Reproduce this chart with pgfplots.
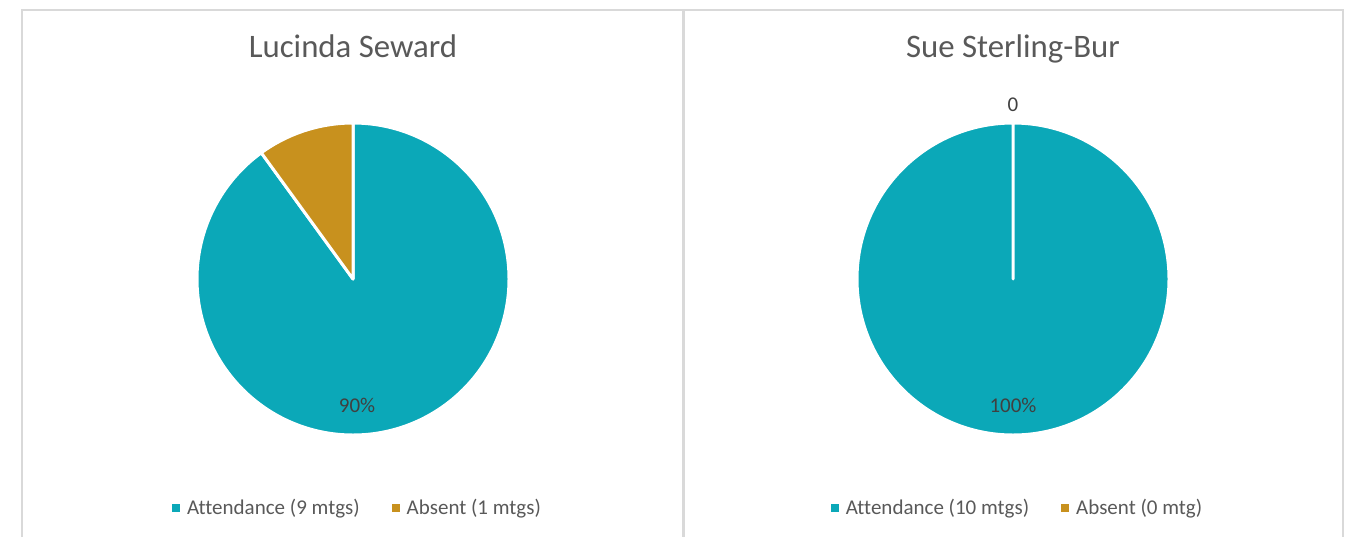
\documentclass[border=0pt]{standalone}
\usepackage{pgfplots}
\usepackage{pgfplotstable}
\usepackage{fontspec}
\setmainfont{Carlito}[Ligatures=NoCommon]
\pgfplotsset{compat=1.18}
\definecolor{teal0}{RGB}{11,168,184}
\definecolor{gold0}{RGB}{200,145,30}
\definecolor{titlegray}{RGB}{89,89,89}
\definecolor{labgray}{RGB}{64,64,64}
\definecolor{framegray}{RGB}{217,217,217}
\pgfplotstableread{
person attend absent
Lucinda 9 1
Sue 10 0
}\meetings
\pgfplotstablegetelem{0}{attend}\of\meetings \let\LatA\pgfplotsretval
\pgfplotstablegetelem{0}{absent}\of\meetings \let\LabA\pgfplotsretval
\pgfplotstablegetelem{1}{attend}\of\meetings \let\SatA\pgfplotsretval
\pgfplotstablegetelem{1}{absent}\of\meetings \let\SabA\pgfplotsretval
\pgfmathsetmacro\Lend{90-360*\LatA/(\LatA+\LabA)}
\pgfmathtruncatemacro\Lpct{round(100*\LatA/(\LatA+\LabA))}
\pgfmathsetmacro\Send{90-360*\SatA/(\SatA+\SabA)}
\pgfmathtruncatemacro\Spct{round(100*\SatA/(\SatA+\SabA))}
\pgfplotsset{
  piepanel/.style={
    scale only axis, x=0.5pt, y=0.5pt, hide axis, clip=false,
    ymin=-258, ymax=279,
    legend columns=2,
    legend image code/.code={\path[##1] (0pt,1pt) rectangle (4pt,5pt);},
    legend style={draw=none, fill=none, inner sep=0pt,
      font=\fontsize{10.5pt}{12pt}\selectfont, text=titlegray,
      at={(axis cs:4.5,-229)}, anchor=center,
      /tikz/every odd column/.append style={column sep=2.5pt},
      /tikz/every even column/.append style={column sep=15pt},
      nodes={inner sep=1pt, anchor=base west}},
  }
}
\begin{document}
\begin{tikzpicture}
\begin{axis}[piepanel, at={(0,0)}, anchor=south west, xmin=-353, xmax=330]
  \fill[white] (axis cs:-353,-258) rectangle (axis cs:330,279);
  \draw[framegray, line width=0.6pt] (axis cs:-331,-258) -- (axis cs:-331,269) -- (axis cs:329.5,269) -- (axis cs:329.5,-258);
  \addlegendimage{fill=teal0, draw=none}
  \addlegendentry{Attendance (\LatA\ mtgs)}
  \addlegendimage{fill=gold0, draw=none}
  \addlegendentry{Absent (\LabA\ mtgs)}
  \filldraw[fill=teal0, draw=white, line width=1.5pt, line join=round]
     (axis cs:0,0) -- (axis cs:0,156) arc[start angle=90, end angle=\Lend, radius=156] -- cycle;
  \filldraw[fill=gold0, draw=white, line width=1.5pt, line join=round]
     (axis cs:0,0) -- (axis cs:0,156) arc[start angle=90, end angle=\Lend+360, radius=156] -- cycle;
  \node[anchor=base, font=\fontsize{16.4pt}{19pt}\selectfont, text=titlegray] at (axis cs:0,222) {Lucinda Seward};
  \node[anchor=base, font=\fontsize{10.5pt}{12pt}\selectfont, text=labgray] at (axis cs:4,-133) {\Lpct\%};
\end{axis}
\begin{axis}[piepanel, at={(341.5pt,0)}, anchor=south west, xmin=-330, xmax=346]
  \fill[white] (axis cs:-330,-258) rectangle (axis cs:346,279);
  \draw[framegray, line width=0.6pt] (axis cs:-329,-258) -- (axis cs:-329,269) -- (axis cs:330,269) -- (axis cs:330,-258);
  \addlegendimage{fill=teal0, draw=none}
  \addlegendentry{Attendance (\SatA\ mtgs)}
  \addlegendimage{fill=gold0, draw=none}
  \addlegendentry{Absent (\SabA\ mtg)}
  \filldraw[fill=teal0, draw=white, line width=1.5pt, line join=round]
     (axis cs:0,0) -- (axis cs:0,156) arc[start angle=90, end angle=\Send, radius=156] -- cycle;
  \node[anchor=base, font=\fontsize{16.4pt}{19pt}\selectfont, text=titlegray] at (axis cs:0,222) {Sue Sterling-Bur};
  \node[anchor=base, font=\fontsize{10.5pt}{12pt}\selectfont, text=labgray] at (axis cs:0,-133) {\Spct\%};
  \node[anchor=base, font=\fontsize{10.5pt}{12pt}\selectfont, text=labgray] at (axis cs:0,168) {\SabA};
\end{axis}
\end{tikzpicture}
\end{document}
